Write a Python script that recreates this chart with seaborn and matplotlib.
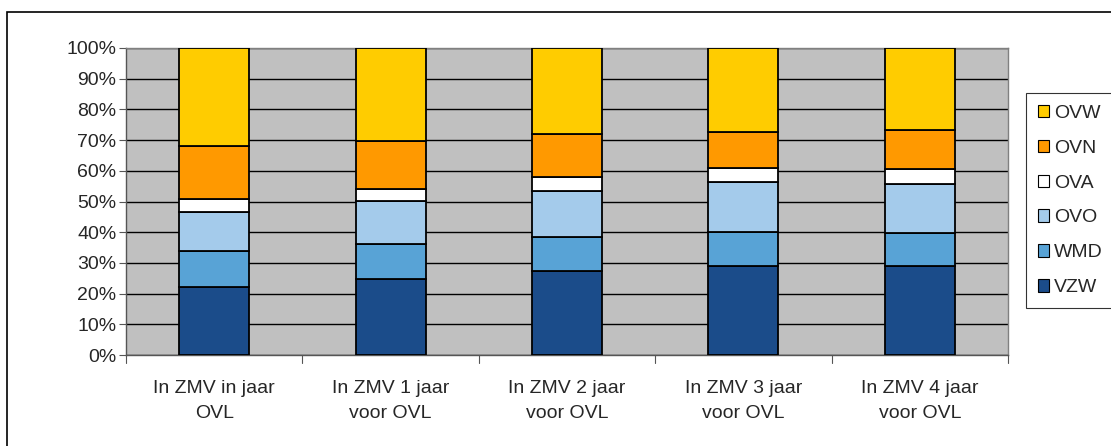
import matplotlib
matplotlib.use("Agg")
import matplotlib.pyplot as plt
import seaborn as sns
import numpy as np
import pandas as pd
from matplotlib.patches import Rectangle, Patch

categories = ["In ZMV in jaar\nOVL", "In ZMV 1 jaar\nvoor OVL", "In ZMV 2 jaar\nvoor OVL",
              "In ZMV 3 jaar\nvoor OVL", "In ZMV 4 jaar\nvoor OVL"]
series_names = ["VZW", "WMD", "OVO", "OVA", "OVN", "OVW"]
VZW = [22.2, 24.6, 27.4, 29.1, 29.1]
WMD = [11.7, 11.7, 11.1, 11.1, 10.5]
OVO = [12.8, 14.0, 15.0, 16.2, 16.2]
OVA = [4.0, 3.8, 4.5, 4.4, 4.7]
OVN = [17.4, 15.7, 13.9, 11.7, 12.8]
OVW = [31.9, 30.2, 28.1, 27.5, 26.7]
series_values = [VZW, WMD, OVO, OVA, OVN, OVW]
colors = ["#1B4C8A", "#58A3D6", "#A4CBEB", "#FFFFFF", "#FF9900", "#FFCC00"]

sns.set_style("white")
plt.rcParams['font.family'] = ['Liberation Sans', 'DejaVu Sans']
FS = 14

fig = plt.figure(figsize=(11.11, 4.46), dpi=100)
ax = fig.add_axes([126/1111, 91/446, 882/1111, 307/446])
ax.set_facecolor("#C0C0C0")

bottom = np.zeros(len(categories))
for name, vals, col in zip(series_names, series_values, colors):
    df = pd.DataFrame({"cat": categories, "val": vals})
    sns.barplot(data=df, x="cat", y="val", ax=ax, color=col, bottom=bottom,
                width=0.397, edgecolor="black", linewidth=1.3, saturation=1, zorder=3)
    bottom = bottom + np.array(vals)

ax.set_ylim(0, 100)
ax.set_xlim(-0.5, len(categories) - 0.5)
ax.set_yticks(np.arange(0, 101, 10))
ax.set_yticklabels([f"{v}%" for v in range(0, 101, 10)])
ax.yaxis.grid(True, color="black", linewidth=1.0, zorder=1)
ax.set_axisbelow(True)
ax.set_xlabel("")
ax.set_ylabel("")
ax.set_xticks(np.arange(len(categories)))
ax.set_xticklabels(categories, linespacing=1.6)
ax.tick_params(axis="x", length=0, pad=18, labelsize=FS)
ax.tick_params(axis="y", length=5, width=0.8, color="#555555", direction="out", labelsize=FS, pad=2, left=True)
for xb in np.arange(-0.5, len(categories)):
    ax.plot([xb, xb], [0, -2.5], color="#555555", lw=0.8, clip_on=False, zorder=5)
for s in ax.spines.values():
    s.set_color("#808080")
    s.set_linewidth(1.0)
ax.spines["left"].set_color("#555555")
ax.spines["bottom"].set_color("#555555")

handles = [Patch(facecolor=c, edgecolor="black", linewidth=0.8, label=n)
           for n, c in zip(series_names, colors)][::-1]
leg = fig.legend(handles=handles, loc="upper left", bbox_to_anchor=(1026/1111, 1 - 93/446),
                 frameon=True, fancybox=False, edgecolor="black", fontsize=FS,
                 handlelength=0.6, handleheight=0.6, handletextpad=0.25, labelspacing=0.92,
                 borderpad=0.6, borderaxespad=0)
leg.get_frame().set_linewidth(0.8)

fig.patches.append(Rectangle((7/1111, -0.1), 1.2, 1 - 12/446 + 0.1, transform=fig.transFigure,
                             fill=False, edgecolor="black", linewidth=1.2))

fig.savefig("out.png", dpi=100)
